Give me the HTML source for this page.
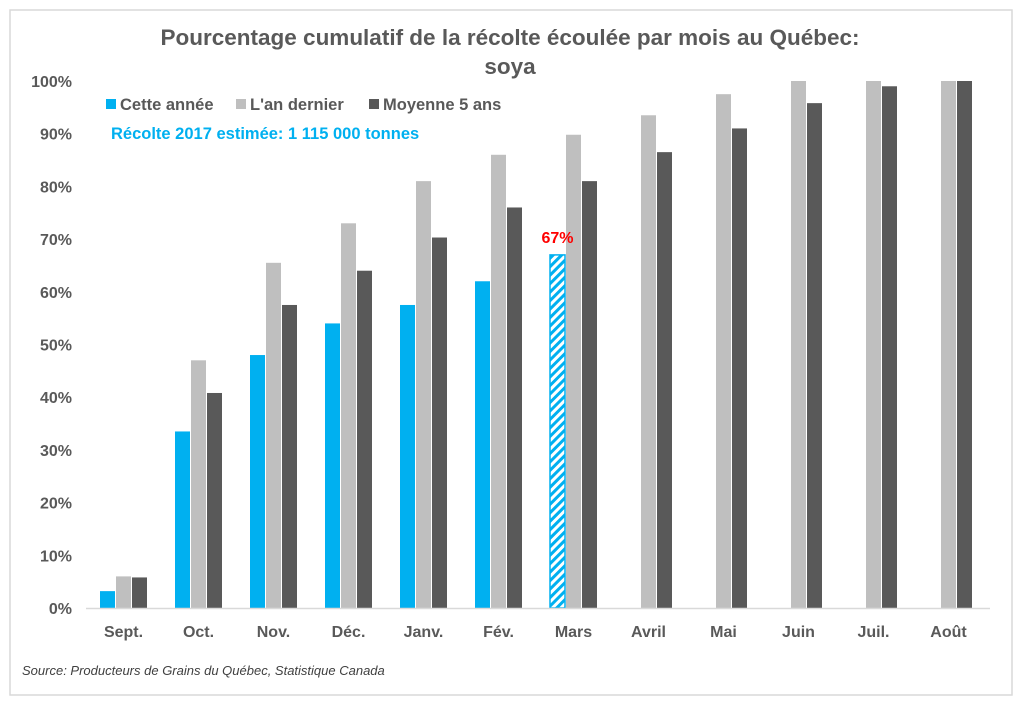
<!DOCTYPE html>
<html><head><meta charset="utf-8"><style>
html,body{margin:0;padding:0;background:#fff;}
svg{display:block;font-family:"Liberation Sans",sans-serif;}
</style></head><body>
<svg id="chart" width="1024" height="706" viewBox="0 0 1024 706">
<defs>
<pattern id="hatch" width="6" height="6" patternUnits="userSpaceOnUse" patternTransform="rotate(45)">
<rect width="6" height="6" fill="#fff"/><rect width="3" height="6" fill="#00B0F0"/>
</pattern>
</defs>
<rect x="10" y="10" width="1002" height="685" fill="#fff" stroke="#d9d9d9" stroke-width="1.5"/>
<text x="510" y="45" text-anchor="middle" font-size="22.5" font-weight="bold" fill="#595959">Pourcentage cumulatif de la récolte écoulée par mois au Québec:</text>
<text x="510" y="74" text-anchor="middle" font-size="22.5" font-weight="bold" fill="#595959">soya</text>
<g>
<rect x="106" y="99" width="10" height="10" fill="#00B0F0"/>
<text x="120" y="110" font-size="16.5" font-weight="bold" fill="#595959">Cette année</text>
<rect x="236" y="99" width="10" height="10" fill="#bfbfbf"/>
<text x="250" y="110" font-size="16.5" font-weight="bold" fill="#595959">L'an dernier</text>
<rect x="369" y="99" width="10" height="10" fill="#595959"/>
<text x="383" y="110" font-size="16.5" font-weight="bold" fill="#595959">Moyenne 5 ans</text>
</g>
<text x="111" y="139" font-size="16.5" font-weight="bold" fill="#00B0F0">Récolte 2017 estimée: 1 115 000 tonnes</text>
<g id="yaxis"></g>
<g id="bars"></g>
<g id="xaxis"></g>
<text x="22" y="675" font-size="13" font-style="italic" fill="#404040">Source: Producteurs de Grains du Québec, Statistique Canada</text>
</svg>
<script>
const categories=["Sept.","Oct.","Nov.","Déc.","Janv.","Fév.","Mars","Avril","Mai","Juin","Juil.","Août"];
const thisYear=[3.2,33.5,48,54,57.5,62,67,null,null,null,null,null];
const lastYear=[6,47,65.5,73,81,86,89.8,93.5,97.5,100,100,100];
const avg5=[5.8,40.8,57.5,64,70.3,76,81,86.5,91,95.8,99,100];
const yTicks=[0,10,20,30,40,50,60,70,80,90,100];
const estimateIndex=6;
const estimateLabel="67%";
const NS="http://www.w3.org/2000/svg";
const x0=86,x1=986,yZero=608,yTop=81;
const bw=(x1-x0)/categories.length;
function y(v){return yZero-(yZero-yTop)*v/100;}
function cx(i){return x0+bw*(i+0.5);}
function mk(t,a,p){const e=document.createElementNS(NS,t);for(const k in a)e.setAttribute(k,a[k]);p.appendChild(e);return e;}
const ya=document.getElementById('yaxis');
yTicks.forEach(v=>{const t=mk('text',{x:72,y:y(v)+6,'text-anchor':'end','font-size':16,'font-weight':'bold',fill:'#595959'},ya);t.textContent=v+'%';

});
const bars=document.getElementById('bars');
const barW=16;
const series=[[thisYear,'#00B0F0','this-year'],[lastYear,'#bfbfbf','last-year'],[avg5,'#595959','five-year-avg']];
categories.forEach((c,i)=>{
 series.forEach((s,j)=>{const v=s[0][i];if(v==null)return;
  const xx=cx(i)+(j-1.5)*barW+0.5;
  const hatched=(j===0&&i===estimateIndex);
  const r=mk('rect',{x:xx,y:y(v),width:barW-1,height:yZero-y(v),fill:hatched?'url(#hatch)':s[1]},bars);
  if(hatched){r.setAttribute('stroke','#00B0F0');r.setAttribute('stroke-width','1.5');}
  
  
 });
});
const lbl=mk('text',{x:cx(estimateIndex)-16,y:y(thisYear[estimateIndex])-12,'text-anchor':'middle','font-size':16,'font-weight':'bold',fill:'#ff0000'},bars);
lbl.textContent=estimateLabel;


const xa=document.getElementById('xaxis');
const ln=mk('line',{x1:x0,x2:990,y1:yZero+0.5,y2:yZero+0.5,stroke:'#d9d9d9','stroke-width':1.5},xa);


categories.forEach((c,i)=>{const t=mk('text',{x:cx(i),y:637,'text-anchor':'middle','font-size':16,'font-weight':'bold',fill:'#595959'},xa);t.textContent=c;

});
</script>
</body></html>
